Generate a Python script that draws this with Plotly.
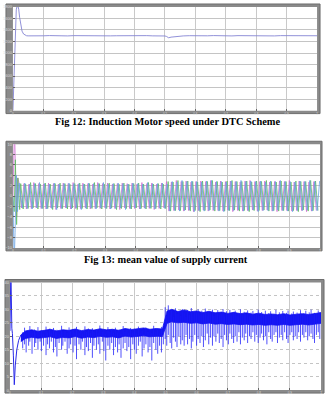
import numpy as np
import plotly.graph_objects as go

# ---------------- Plot 1: motor speed ----------------
speed_t = [0, 0.002, 0.004, 0.007, 0.011, 0.015, 0.019, 0.022, 0.026, 0.03, 0.035, 0.04, 0.045, 0.05,
           0.06, 0.08, 0.10, 0.12, 0.14, 0.16, 0.18, 0.20, 0.22, 0.24, 0.26, 0.28, 0.30, 0.32, 0.34,
           0.36, 0.38, 0.40, 0.42, 0.44, 0.46, 0.48, 0.50, 0.505, 0.512, 0.52, 0.54, 0.56, 0.58, 0.60,
           0.62, 0.64, 0.66, 0.68, 0.70, 0.72, 0.74, 0.76, 0.78, 0.80, 0.82, 0.84, 0.86, 0.88, 0.90,
           0.92, 0.94, 0.96, 0.98, 1.00]
speed_v = [0, 300, 750, 1250, 1750, 1850, 1760, 1620, 1480, 1380, 1330, 1310, 1300, 1298,
           1296, 1302, 1299, 1303, 1298, 1301, 1297, 1302, 1300, 1296, 1301, 1299, 1303, 1298, 1300,
           1302, 1297, 1301, 1299, 1302, 1298, 1300, 1296, 1288, 1265, 1276, 1290, 1297, 1301, 1298,
           1302, 1299, 1303, 1298, 1301, 1297, 1302, 1300, 1298, 1303, 1299, 1301, 1297, 1302, 1300,
           1298, 1301, 1299, 1302, 1300]

# ---------------- Plot 2: three-phase supply current ----------------
ia_tr_t = [0, 0.003, 0.005, 0.008, 0.012, 0.016]
ia_tr_v = [0, 8, 13, 6, -4, 3.5]
ib_tr_t = [0, 0.004, 0.008, 0.012, 0.016, 0.022]
ib_tr_v = [0, -3, 7, -5.5, 3.5, -2.6]
ic_tr_t = [0, 0.002, 0.004, 0.007, 0.011, 0.015, 0.020]
ic_tr_v = [0, -8, -13, -7, 4, -3, 2.5]

ia_peaks = [2.5, -2.3, 2.4, -2.5, 2.3, -2.4, 2.6, -2.3, 2.4, -2.4,
            2.3, -2.5, 2.5, -2.3, 2.4, -2.6, 2.3, -2.4, 2.5, -2.3,
            2.4, -2.5, 2.6, -2.4, 2.3, -2.4, 2.5, -2.3, 2.4, -2.5,
            2.3, -2.4, 2.6, -2.4, 2.4, -2.3, 2.5, -2.5, 2.3, -2.4,
            2.4, -2.6, 2.5, -2.3, 2.4, -2.4, 2.5, -2.4, 2.3, -2.5,
            2.6, -2.3, 2.4, -2.4, 2.5, -2.6, 2.3, -2.4, 2.5, -2.3,
            2.8, -2.9, 2.7, -2.8, 3.0, -2.7, 2.8, -2.9, 2.9, -2.8,
            2.7, -3.0, 2.8, -2.8, 2.9, -2.7, 2.8, -2.9, 3.0, -2.8,
            2.7, -2.8, 2.9, -2.9, 2.8, -2.7, 2.9, -3.0, 2.8, -2.8,
            2.7, -2.9, 2.9, -2.8, 3.0, -2.7, 2.8, -2.9, 2.8, -2.8,
            2.9, -2.7, 2.7, -2.9, 2.8, -3.0, 2.9, -2.8, 2.8, -2.8,
            3.0, -2.9, 2.7, -2.8, 2.9, -2.8, 2.8, -3.0, 2.7, -2.9,
            2.8, -2.8]
ib_peaks = [2.4, -2.5, 2.3, -2.4, 2.6, -2.3, 2.4, -2.5, 2.3, -2.4,
            2.5, -2.4, 2.3, -2.6, 2.4, -2.3, 2.5, -2.4, 2.4, -2.5,
            2.3, -2.3, 2.4, -2.6, 2.5, -2.4, 2.3, -2.5, 2.4, -2.4,
            2.6, -2.3, 2.4, -2.5, 2.3, -2.4, 2.5, -2.3, 2.4, -2.6,
            2.3, -2.4, 2.5, -2.4, 2.3, -2.5, 2.4, -2.3, 2.5, -2.4,
            2.3, -2.5, 2.6, -2.4, 2.3, -2.4, 2.4, -2.5, 2.3, -2.4,
            2.8, -2.9, 2.7, -2.8, 3.0, -2.8, 2.8, -2.7, 2.9, -2.9,
            2.8, -2.8, 2.7, -3.0, 2.9, -2.8, 2.8, -2.7, 3.0, -2.9,
            2.8, -2.8, 2.7, -2.9, 2.9, -2.8, 3.0, -2.7, 2.8, -2.9,
            2.8, -2.8, 2.9, -3.0, 2.7, -2.8, 2.9, -2.8, 2.8, -2.7,
            3.0, -2.9, 2.8, -2.8, 2.7, -2.9, 2.9, -2.8, 2.8, -2.9,
            2.7, -2.8, 2.9, -3.0, 2.8, -2.7, 2.8, -2.9, 3.0, -2.8,
            2.9, -2.8]
ic_peaks = [-2.3, 2.5, -2.4, 2.3, -2.5, 2.4, -2.3, 2.6, -2.4, 2.4,
            -2.5, 2.3, -2.4, 2.5, -2.6, 2.3, -2.4, 2.4, -2.3, 2.5,
            -2.5, 2.4, -2.3, 2.4, -2.6, 2.3, -2.4, 2.5, -2.3, 2.4,
            -2.5, 2.4, -2.3, 2.6, -2.4, 2.3, -2.5, 2.4, -2.4, 2.5,
            -2.3, 2.4, -2.6, 2.3, -2.4, 2.5, -2.3, 2.4, -2.5, 2.3,
            -2.4, 2.6, -2.3, 2.4, -2.5, 2.4, -2.3, 2.5, -2.4, 2.3,
            -2.9, 2.8, -2.8, 2.7, -2.9, 3.0, -2.8, 2.8, -2.7, 2.9,
            -3.0, 2.8, -2.8, 2.7, -2.9, 2.9, -2.8, 3.0, -2.7, 2.8,
            -2.9, 2.8, -3.0, 2.7, -2.8, 2.9, -2.8, 2.8, -2.7, 3.0,
            -2.9, 2.8, -2.8, 2.9, -2.7, 2.8, -3.0, 2.9, -2.8, 2.7,
            -2.8, 2.9, -2.9, 2.8, -2.7, 3.0, -2.8, 2.8, -2.9, 2.8,
            -3.0, 2.7, -2.8, 2.9, -2.8, 2.8, -2.7, 3.0, -2.9, 2.8,
            -2.8, 2.9]
PEAK_START = 0.02        # first steady half-cycle peak (s)
HALF_PERIOD = 0.008      # half cycle of the supply current (s)
PHASE_SHIFT = [0.0, 0.016 / 3, 0.032 / 3]

# ---------------- Plot 3: torque ----------------
tq_tr_t = [0, 0.002, 0.003, 0.006, 0.008, 0.011, 0.014, 0.017, 0.022, 0.028, 0.035]
tq_tr_v = [22, 45, 45, 23, 21, 13, 2, 9, 15, 18.5, 20.5]
band_t = [0.035, 0.05, 0.07, 0.09, 0.11, 0.13, 0.15, 0.17, 0.19, 0.21, 0.23, 0.25, 0.27, 0.29,
          0.31, 0.33, 0.35, 0.37, 0.39, 0.41, 0.43, 0.45, 0.47, 0.49, 0.497, 0.505, 0.52, 0.54,
          0.56, 0.58, 0.60, 0.62, 0.64, 0.66, 0.68, 0.70, 0.72, 0.74, 0.76, 0.78, 0.80, 0.82,
          0.84, 0.86, 0.88, 0.90, 0.92, 0.94, 0.96, 0.98, 1.0]
band_hi = [20.5, 22.0, 22.4, 21.9, 22.2, 22.6, 22.0, 22.4, 22.2, 22.7, 22.1, 22.5, 22.3, 22.8,
           22.4, 22.6, 22.2, 22.9, 22.5, 22.7, 23.1, 22.6, 22.9, 22.7, 25.5, 29.4, 30.0, 29.2,
           29.8, 29.1, 29.4, 28.8, 29.3, 28.7, 29.0, 28.5, 28.9, 28.4, 28.7, 28.2, 28.6, 28.1,
           28.3, 28.0, 28.4, 27.9, 28.2, 28.4, 28.1, 28.5, 28.8]
band_lo = [18.0, 19.2, 19.6, 19.3, 19.5, 19.8, 19.2, 19.6, 19.4, 19.9, 19.3, 19.7, 19.5, 20.0,
           19.6, 19.8, 19.4, 20.1, 19.7, 19.9, 20.2, 19.8, 20.0, 19.9, 22.0, 24.8, 25.4, 25.0,
           25.2, 24.8, 25.0, 24.6, 24.9, 24.5, 24.7, 24.4, 24.6, 24.3, 24.5, 24.2, 24.4, 24.1,
           24.3, 24.1, 24.4, 24.1, 24.3, 24.5, 24.2, 24.5, 24.8]
spike_t = [0.041, 0.047, 0.052, 0.06, 0.064, 0.071, 0.079, 0.083, 0.09, 0.097,
           0.101, 0.108, 0.116, 0.121, 0.127, 0.133, 0.14, 0.146, 0.151, 0.158,
           0.166, 0.17, 0.177, 0.184, 0.19, 0.195, 0.203, 0.209, 0.214, 0.222,
           0.228, 0.233, 0.241, 0.246, 0.252, 0.259, 0.265, 0.27, 0.278, 0.284,
           0.289, 0.297, 0.302, 0.308, 0.315, 0.321, 0.327, 0.333, 0.339, 0.346,
           0.351, 0.357, 0.364, 0.37, 0.376, 0.382, 0.388, 0.395, 0.4, 0.406,
           0.413, 0.419, 0.425, 0.431, 0.437, 0.444, 0.45, 0.456, 0.462, 0.469,
           0.475, 0.481, 0.487, 0.493,
           0.499, 0.504, 0.509, 0.515, 0.52, 0.526, 0.532, 0.537, 0.543, 0.549,
           0.554, 0.56, 0.566, 0.571, 0.577, 0.583, 0.588, 0.594, 0.6, 0.605,
           0.611, 0.617, 0.622, 0.628, 0.634, 0.639, 0.645, 0.651, 0.656, 0.662,
           0.668, 0.673, 0.679, 0.685, 0.69, 0.696, 0.702, 0.707, 0.713, 0.719,
           0.724, 0.73, 0.736, 0.741, 0.747, 0.753, 0.758, 0.764, 0.77, 0.775,
           0.781, 0.787, 0.792, 0.798, 0.804, 0.809, 0.815, 0.821, 0.826, 0.832,
           0.838, 0.843, 0.849, 0.855, 0.86, 0.866, 0.872, 0.877, 0.883, 0.889,
           0.894, 0.9, 0.906, 0.911, 0.917, 0.923, 0.928, 0.934, 0.94, 0.945,
           0.951, 0.957, 0.962, 0.968, 0.974, 0.979, 0.985, 0.991, 0.996]
spike_top = [21.5, 23.2, 21.0, 22.0, 23.8, 21.3, 22.5, 21.1, 23.4, 21.7,
             22.2, 21.0, 23.6, 21.4, 22.8, 21.2, 23.1, 21.6, 22.4, 21.0,
             23.9, 21.5, 22.1, 21.3, 23.3, 21.8, 22.6, 21.1, 23.5, 21.4,
             22.3, 21.0, 23.7, 21.6, 22.9, 21.2, 23.0, 21.5, 22.4, 21.3,
             24.0, 21.7, 22.2, 21.1, 23.4, 21.6, 22.7, 21.2, 23.2, 21.4,
             22.5, 21.0, 23.8, 21.7, 22.3, 21.3, 23.1, 21.5, 22.8, 21.2,
             23.6, 21.4, 22.1, 21.0, 23.3, 21.6, 22.6, 21.3, 23.9, 21.5,
             22.4, 21.1, 23.5, 21.8,
             30.8, 27.5, 31.5, 28.0, 29.6, 27.2, 30.4, 28.3, 29.0, 27.6,
             30.1, 28.5, 27.3, 29.8, 28.0, 30.5, 27.4, 29.2, 28.6, 30.0,
             27.8, 29.5, 28.2, 30.3, 27.5, 29.0, 28.4, 29.9, 27.6, 28.8,
             29.7, 27.9, 28.6, 30.1, 27.4, 29.3, 28.1, 29.8, 27.7, 28.9,
             29.5, 27.6, 28.7, 30.0, 27.8, 29.1, 28.3, 29.6, 27.5, 28.8,
             29.4, 27.9, 28.5, 29.9, 27.6, 29.0, 28.2, 29.5, 27.7, 28.6,
             29.3, 27.8, 28.4, 29.8, 27.5, 28.9, 28.1, 29.4, 27.6, 28.7,
             29.6, 27.9, 28.5, 29.2, 27.7, 28.8, 28.3, 29.7, 27.8, 28.6,
             29.5, 28.0, 28.9, 29.9, 27.9, 28.7, 28.4, 29.6, 28.8]
spike_low = [15.5, 17, 14, 16.5, 18, 13.5, 16, 17.5, 15, 18,
             14.5, 16.5, 13, 17, 15.5, 18, 14, 16, 12.5, 17.5,
             15, 16.5, 18, 13.5, 15.5, 17, 14, 16.5, 11.5, 17,
             15, 18, 13, 16, 14.5, 17.5, 12, 16.5, 15, 17,
             13.5, 18, 14.5, 11, 16.5, 15, 17.5, 13, 16, 14,
             17, 12, 15.5, 17.5, 14.5, 16, 11.5, 17, 15, 13.5,
             16.5, 18, 12.5, 15.5, 17, 14, 16, 11, 17.5, 15,
             13.5, 16.5, 14, 17,
             19, 16.5, 20.5, 17.5, 15.5, 19.5, 18, 16, 20, 17,
             18.5, 16.5, 20.5, 17, 19, 15.5, 18, 20.5, 16.5, 19,
             17.5, 20, 16, 18.5, 21, 17, 19.5, 16.5, 20, 18,
             21, 17.5, 19, 16, 20.5, 18.5, 17, 21, 19, 17.5,
             20, 18, 21.5, 17, 19.5, 18.5, 21, 17.5, 20, 19,
             21.5, 18, 20.5, 17.5, 19.5, 21, 18.5, 20, 17, 21.5,
             19, 18, 20.5, 21.5, 17.5, 19.5, 20.5, 18.5, 21.5, 19,
             17.5, 20.5, 21.5, 18.5, 20, 19, 21.5, 18, 20.5, 19.5,
             21.5, 18.5, 20, 21, 19, 17.5, 20.5, 21.5, 19]

captions = ["Fig 12: Induction Motor speed under DTC Scheme",
            "Fig 13: mean value of supply current"]

W, H = 328, 400
def px(x):
    return x / W
def py(y):
    return 1 - y / H

fig = go.Figure()

# plot 1
fig.add_trace(go.Scatter(x=speed_t, y=speed_v, mode="lines",
                         line=dict(color="#8484d4", width=0.9), xaxis="x", yaxis="y"))

# plot 2
phase_cols = ["#d070d0", "#62bb62", "#6aa2e2"]
trs = [(ia_tr_t, ia_tr_v, ia_peaks), (ib_tr_t, ib_tr_v, ib_peaks), (ic_tr_t, ic_tr_v, ic_peaks)]
for k, (tt, tv, pk) in enumerate(trs):
    t_steady = list(PEAK_START + PHASE_SHIFT[k] + HALF_PERIOD * np.arange(len(pk)))
    t_steady = [t for t in t_steady if t <= 1.0]
    fig.add_trace(go.Scatter(x=list(tt) + t_steady, y=list(tv) + pk[:len(t_steady)], mode="lines",
                             line=dict(color=phase_cols[k], width=0.8), xaxis="x2", yaxis="y2"))

# plot 3
fig.add_trace(go.Scatter(x=band_t, y=band_lo, mode="lines", line=dict(color="#1010f0", width=0.8),
                         xaxis="x3", yaxis="y3"))
fig.add_trace(go.Scatter(x=band_t, y=band_hi, mode="lines", line=dict(color="#1010f0", width=0.8),
                         fill="tonexty", fillcolor="#1515f0", xaxis="x3", yaxis="y3"))
sx, sy = [], []
for t, a, b in zip(spike_t, spike_top, spike_low):
    sx += [t, t, None]
    sy += [a, b, None]
fig.add_trace(go.Scatter(x=sx, y=sy, mode="lines", line=dict(color="rgba(25,25,250,0.85)", width=0.9),
                         xaxis="x3", yaxis="y3"))
fig.add_trace(go.Scatter(x=tq_tr_t, y=tq_tr_v, mode="lines", line=dict(color="#2a2ae8", width=1),
                         xaxis="x3", yaxis="y3"))

panels = [
    dict(inner=(12, 4, 318, 109), outer=(5, 1, 321, 112), yr=[0, 1800], dy=200, grid="solid"),
    dict(inner=(12, 143, 321, 248), outer=(5, 140, 323, 251), yr=[-10, 10], dy=2, grid="solid"),
    dict(inner=(9, 283, 322, 392), outer=(4, 280, 325, 395), yr=[0, 40], dy=5, grid="dot"),
]

shapes = []
layout_axes = {}
for i, p in enumerate(panels):
    x0, y0, x1, y1 = p["inner"]
    ox0, oy0, ox1, oy1 = p["outer"]
    shapes.append(dict(type="rect", xref="paper", yref="paper", x0=px(ox0), x1=px(ox1),
                       y0=py(oy1), y1=py(oy0), fillcolor="#8a8a8a", line=dict(color="#6e6e6e", width=1),
                       layer="below"))
    shapes.append(dict(type="rect", xref="paper", yref="paper", x0=px(x0), x1=px(x1),
                       y0=py(y1), y1=py(y0), fillcolor="white", line=dict(width=0), layer="below"))
    sfx = "" if i == 0 else str(i + 1)
    layout_axes["xaxis" + sfx] = dict(domain=[px(x0), px(x1)], range=[0, 1], dtick=0.1, tick0=0,
                                      anchor="y" + sfx, showgrid=True, gridcolor="#c9c9c9",
                                      griddash="solid", gridwidth=1, zeroline=False, showline=False,
                                      ticks="inside", ticklen=2, tickcolor="#666",
                                      tickfont=dict(size=3, color="#dddddd", family="Arial"),
                                      fixedrange=True)
    layout_axes["yaxis" + sfx] = dict(domain=[py(y1), py(y0)], range=p["yr"], dtick=p["dy"],
                                      tick0=p["yr"][0], anchor="x" + sfx, showgrid=True,
                                      gridcolor="#c4c4c4", griddash=p["grid"], gridwidth=1,
                                      zeroline=False, showline=False, ticks="inside", ticklen=2,
                                      tickcolor="#666",
                                      tickfont=dict(size=4, color="#dddddd", family="Arial"),
                                      fixedrange=True)

annotations = [
    dict(text="<b>%s</b>" % captions[0], xref="paper", yref="paper", x=px(168), y=py(120),
         xanchor="center", yanchor="middle", showarrow=False,
         font=dict(family="Liberation Serif", size=10.4, color="black")),
    dict(text="<b>%s</b>" % captions[1], xref="paper", yref="paper", x=px(166), y=py(260),
         xanchor="center", yanchor="middle", showarrow=False,
         font=dict(family="Liberation Serif", size=10.4, color="black")),
]

fig.update_layout(width=W, height=H, margin=dict(l=0, r=0, t=0, b=0), showlegend=False,
                  paper_bgcolor="white", plot_bgcolor="rgba(0,0,0,0)", shapes=shapes,
                  annotations=annotations, hovermode=False, **layout_axes)

fig.write_html("out.html", config={"displayModeBar": False})
